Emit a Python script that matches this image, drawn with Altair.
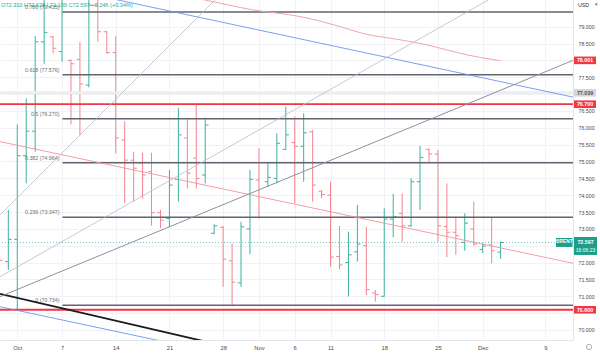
import altair as alt
import pandas as pd

W, H = 573, 340
X_MIN, X_MAX = -1.93, 62.09
Y_MIN, Y_MAX = 69.703, 79.792
PX = (Y_MAX - Y_MIN) / H  # price units per pixel

# ---------------- data ----------------
bar_idx = list(range(-2, 55))  # 0 = Oct 1 (6 sessions per week incl. Sunday)
bar_open = [72.70, 72.03, 72.69, 75.17, 75.90, 78.55, 78.70, 78.26, 78.00, 78.03,
            77.27, 79.64, 78.85, 78.23, 75.64, 75.04, 74.95, 74.70, 73.48, 73.31,
            74.47, 75.70, 75.10, 74.60, 72.87, 73.05, 72.05, 71.40, 73.00, 74.45,
            74.40, 74.50, 75.36, 75.56, 75.45, 75.88, 74.12, 74.00, 72.18, 72.00,
            72.32, 72.50, 71.10, 71.00, 73.29, 73.46, 73.09, 74.40, 75.36, 75.22,
            73.07, 72.90, 72.60, 73.00, 72.39, 72.52, 72.310]
bar_high = [72.79, 73.56, 76.10, 76.87, 78.72, 80.00, 78.72, 81.80, 78.03, 78.55,
            80.30, 80.10, 78.88, 78.72, 76.20, 75.29, 75.26, 75.26, 73.56, 74.75,
            76.59, 76.25, 76.73, 76.30, 73.14, 73.09, 72.57, 73.21, 74.75, 75.39,
            74.95, 75.84, 76.63, 76.33, 76.43, 75.93, 74.15, 74.40, 73.09, 72.92,
            73.71, 73.07, 71.19, 73.61, 74.04, 74.05, 74.50, 75.46, 75.39, 75.34,
            74.35, 73.36, 73.46, 73.81, 72.57, 73.36, 72.628]
bar_low = [71.98, 71.78, 70.60, 74.35, 75.29, 77.90, 78.21, 77.96, 76.10, 75.78,
           77.20, 78.55, 78.20, 75.24, 73.76, 73.81, 73.90, 73.10, 73.02, 73.05,
           73.81, 74.20, 74.20, 74.35, 72.85, 71.28, 70.734, 71.28, 72.25, 73.31,
           74.25, 74.35, 75.34, 73.76, 74.40, 73.81, 73.91, 71.88, 71.80, 70.99,
           72.03, 71.04, 70.84, 70.99, 72.75, 72.62, 73.07, 73.56, 74.95, 72.62,
           72.16, 72.23, 72.35, 72.50, 72.28, 71.98, 72.109]
bar_close = [72.07, 72.69, 75.17, 75.90, 78.55, 78.83, 78.36, 80.90, 77.90, 77.30,
             79.64, 78.85, 78.23, 75.70, 75.04, 74.80, 74.60, 73.48, 73.26, 74.30,
             75.79, 74.65, 74.50, 76.08, 73.09, 72.10, 71.42, 73.06, 74.47, 73.34,
             74.53, 75.54, 75.79, 75.45, 75.85, 74.30, 74.02, 72.16, 71.93, 72.23,
             72.55, 71.20, 71.05, 73.29, 73.36, 73.09, 74.40, 75.12, 75.22, 73.09,
             72.90, 72.80, 73.17, 72.55, 72.49, 72.351, 72.597]

tick_idx = [0, 5, 11, 17, 23, 27, 31, 35, 41, 47, 52, 59]
tick_labels = ["Oct", "7", "14", "21", "28", "Nov", "6", "11", "18", "25", "Dec", "9"]
price_ticks = [70 + 0.5 * k for k in range(19)]
hidden_price_labels = [70.5, 72.5, 77.0, 78.0]  # covered by the price boxes

# moving average (pink curve)
ma_idx = [15.9, 21.0, 26.3, 31.6, 36.1, 38.6, 42.8, 45.8, 48.0, 50.3, 54.0]
ma_val = [80.06, 79.79, 79.50, 79.30, 79.00, 78.80, 78.61, 78.46, 78.31, 78.16, 77.99]

# trend lines: start/end index and price
seg_name = ["chan_top", "chan_mid", "chan_bot", "black", "gray_a", "gray_b", "gray_c"]
seg_i0 = [-1.93, -1.93, -1.93, -1.93, -1.93, -1.93, -1.93]
seg_p0 = [80.54, 75.59, 70.69, 71.07, 73.41, 71.58, 70.99]
seg_i1 = [62.09, 62.09, 62.09, 62.09, 26.0, 62.09, 62.09]
seg_p1 = [76.91, 71.98, 67.07, 67.13, 80.83, 81.22, 78.001]

# fibonacci retracement
fib_level = ["0", "0.236", "0.382", "0.5", "0.618", "0.786"]
fib_price = [70.734, 73.347, 74.964, 76.270, 77.576, 79.435]
fib_start = 5.05

red_levels = [76.700, 70.600]
band_level = 77.039
last_price = 72.597
header = "O72.310 H72.628 L72.109 C72.597 +0.246 (+0.34%)"

box_price = [78.001, 76.700, 70.600, 77.039]
box_text = ["78.001", "76.700", "70.600", "77.039"]
box_kind = ["red", "red", "red", "gray"]

# ---------------- styles ----------------
UP, DOWN = "#3fb19f", "#f5848e"
seg_style = {
    "chan_top": ("#6a95ee", 0.9), "chan_mid": ("#f2939b", 0.9), "chan_bot": ("#6a95ee", 0.9),
    "black": ("#1b1b1f", 1.8), "gray_a": ("#b9bcc4", 0.8), "gray_b": ("#b9bcc4", 0.8),
    "gray_c": ("#8f929b", 1.0),
}
FONT = "Liberation Sans"

xs = alt.Scale(domain=[X_MIN, X_MAX], nice=False, zero=False)
ys = alt.Scale(domain=[Y_MIN, Y_MAX], nice=False, zero=False)

label_expr = "{}[indexof({}, datum.value)]".format(
    "[" + ",".join("'%s'" % t for t in tick_labels) + "]",
    "[" + ",".join(str(v) for v in tick_idx) + "]",
)
y_label_expr = "indexof([{}], datum.value) >= 0 ? '' : format(datum.value, '.3f')".format(
    ",".join(str(v) for v in hidden_price_labels))
AX = alt.Axis(values=tick_idx, labelExpr=label_expr, grid=True,
              gridColor="#f0f2f6", ticks=False, domain=True, domainColor="#e4e6eb",
              labelFontSize=5.8, labelColor="#4a4a4a", labelPadding=4, labelFlush=False,
              labelFont=FONT, title=None)
AY = alt.Axis(orient="right", values=price_ticks, labelExpr=y_label_expr,
              grid=True, gridColor="#f0f2f6", ticks=False, domain=True, domainColor="#e4e6eb",
              labelFontSize=5.3, labelColor="#4a4a4a", labelPadding=5, labelAlign="left",
              labelFlush=False, labelFont=FONT, title=None)


def X(f):
    return alt.X(f, scale=xs, axis=AX)


def Y(f):
    return alt.Y(f, scale=ys, axis=AY)


bars = pd.DataFrame({"i": bar_idx, "o": bar_open, "h": bar_high, "l": bar_low, "c": bar_close})
bars["col"] = [UP if c >= o else DOWN for o, c in zip(bars.o, bars.c)]
bars["il"] = bars.i - 0.36
bars["ir"] = bars.i + 0.36

hl = alt.Chart(bars).mark_rule(strokeWidth=1, clip=True).encode(
    x=X("i:Q"), y=Y("l:Q"), y2="h:Q", color=alt.Color("col:N", scale=None))
open_t = alt.Chart(bars).mark_rule(strokeWidth=1, clip=True).encode(
    x=X("il:Q"), x2="i:Q", y=Y("o:Q"), color=alt.Color("col:N", scale=None))
close_t = alt.Chart(bars).mark_rule(strokeWidth=1, clip=True).encode(
    x=X("i:Q"), x2="ir:Q", y=Y("c:Q"), color=alt.Color("col:N", scale=None))

band = alt.Chart(pd.DataFrame({"p": [band_level]})).mark_rule(
    strokeWidth=3, color="#eceef2").encode(y=Y("p:Q"))

fib = pd.DataFrame({"lvl": fib_level, "p": fib_price})
fib["i0"] = fib_start
fib["i1"] = X_MAX
fib["lab"] = [f"{a} ({b:.3f})" for a, b in zip(fib_level, fib_price)]
fib["il"] = (59.5 - 17.3) / 8.95
fib_lines = alt.Chart(fib).mark_rule(strokeWidth=1.4, color="#62656f", clip=True).encode(
    x=X("i0:Q"), x2="i1:Q", y=Y("p:Q"))
fib_text = alt.Chart(fib).mark_text(align="right", baseline="middle", dy=-5, fontSize=5.3,
                                    color="#6b6e78", font=FONT).encode(
    x=X("il:Q"), y=Y("p:Q"), text="lab:N")

red = alt.Chart(pd.DataFrame({"p": red_levels})).mark_rule(strokeWidth=1.8, color="#f23645").encode(
    y=Y("p:Q"))

segs = pd.DataFrame({"n": seg_name, "i0": seg_i0, "p0": seg_p0, "i1": seg_i1, "p1": seg_p1})
segs["col"] = [seg_style[n][0] for n in seg_name]
segs["w"] = [seg_style[n][1] for n in seg_name]
seg_layer = alt.Chart(segs).mark_rule(clip=True).encode(
    x=X("i0:Q"), x2="i1:Q", y=Y("p0:Q"), y2="p1:Q",
    color=alt.Color("col:N", scale=None), strokeWidth=alt.StrokeWidth("w:Q", scale=None))

ma = alt.Chart(pd.DataFrame({"i": ma_idx, "p": ma_val})).mark_line(
    color="#f4a4ac", strokeWidth=1, clip=True, interpolate="monotone").encode(
    x=X("i:Q"), y=Y("p:Q"))

last_line = alt.Chart(pd.DataFrame({"p": [last_price]})).mark_rule(
    strokeWidth=0.8, color="#26a69a", strokeDash=[1, 2], opacity=0.8).encode(y=Y("p:Q"))

head = alt.Chart(pd.DataFrame({"t": [header]})).mark_text(
    align="left", baseline="middle", fontSize=5.6, color="#22ab94", font=FONT).encode(
    x=alt.value(1), y=alt.value(5), text="t:N")

# price boxes on the axis
boxes = pd.DataFrame({"p": box_price, "t": box_text, "k": box_kind})
boxes["top"] = boxes.p + 3.8 * PX
boxes["bot"] = boxes.p - 3.8 * PX
boxes["fill"] = ["#f23645" if k == "red" else "#d3d6dd" for k in box_kind]
boxes["tc"] = ["#ffffff" if k == "red" else "#50535e" for k in box_kind]
box_rect = alt.Chart(boxes).mark_rect().encode(
    x=alt.value(574), x2=alt.value(596),
    y=Y("top:Q"), y2="bot:Q", color=alt.Color("fill:N", scale=None))
box_txt = alt.Chart(boxes).mark_text(fontSize=5.3, fontWeight="bold", font=FONT).encode(
    x=alt.value(585), y=Y("p:Q"), text="t:N", color=alt.Color("tc:N", scale=None))

cur = pd.DataFrame({"p": [last_price], "t1": [f"{last_price:.3f}"], "t2": ["16:06:23"], "b": ["BRENT"]})
cur["top"] = cur.p + 5.5 * PX
cur["bot"] = cur.p - 12.5 * PX
cur["btop"] = cur.p + 4.5 * PX
cur["bbot"] = cur.p - 4.5 * PX
cur_rect = alt.Chart(cur).mark_rect(color="#1e9e89").encode(
    x=alt.value(574), x2=alt.value(597), y=Y("top:Q"), y2="bot:Q")
cur_t1 = alt.Chart(cur).mark_text(fontSize=5.3, fontWeight="bold", color="white", font=FONT).encode(
    x=alt.value(585.5), y=Y("p:Q"), text="t1:N")
cur_t2 = alt.Chart(cur).mark_text(fontSize=5, color="white", dy=7.5, font=FONT).encode(
    x=alt.value(585.5), y=Y("p:Q"), text="t2:N")
brent_rect = alt.Chart(cur).mark_rect(color="#1e9e89").encode(
    x=alt.value(556), x2=alt.value(572.5), y=Y("btop:Q"), y2="bbot:Q")
brent_t = alt.Chart(cur).mark_text(fontSize=4.8, fontWeight="bold", color="white", font=FONT).encode(
    x=alt.value(564.3), y=Y("p:Q"), text="b:N")

usd = alt.Chart(pd.DataFrame({"t": ["USD"]})).mark_text(
    align="left", baseline="middle", fontSize=5.3, color="#333333", font=FONT).encode(
    x=alt.value(578), y=alt.value(5), text="t:N")
usd_arrow = alt.Chart(pd.DataFrame({"t": ["\u25be"]})).mark_text(
    baseline="middle", fontSize=4.5, color="#666666").encode(
    x=alt.value(596), y=alt.value(5), text="t:N")
gear = alt.Chart(pd.DataFrame({"t": [1]})).mark_point(
    shape="circle", size=28, color="#777777", strokeWidth=0.8).encode(
    x=alt.value(589), y=alt.value(347))

chart = alt.layer(
    hl, open_t, close_t, band, fib_lines, fib_text, red, seg_layer, ma, last_line,
    head, box_rect, box_txt, cur_rect, cur_t1, cur_t2, brent_rect, brent_t, usd, usd_arrow, gear,
).properties(
    width=W, height=H, autosize="none",
    padding={"left": 0, "top": 0, "right": 27, "bottom": 14},
    background="white",
).configure_view(stroke=None)

chart.save("out.html", embed_options={"renderer": "svg", "actions": False})
